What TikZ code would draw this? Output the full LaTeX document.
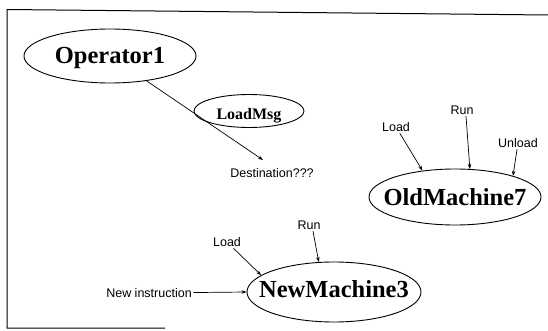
\documentclass[tikz,border=0pt]{standalone}
\usepackage{fontspec}
\setmainfont{Liberation Serif}
\newfontfamily\lblfont{Liberation Sans}
\usetikzlibrary{shapes.geometric,arrows.meta}
\begin{document}
\begin{tikzpicture}[x=1pt,y=-1pt,
  ell/.style={draw, ellipse, line width=0.9pt, inner sep=0pt},
  big/.style={font=\fontsize{24.5}{28}\selectfont\bfseries, text height=16pt, text depth=0pt, inner sep=0pt},
  mid/.style={font=\fontsize{16}{19}\selectfont\bfseries, text height=10.5pt, text depth=0pt, inner sep=0pt},
  lbl/.style={font=\lblfont\fontsize{12.5}{15}\selectfont, inner sep=1.5pt},
  conn/.style={line width=0.7pt, -{Stealth[length=5pt,width=3.5pt]}},
]
\useasboundingbox (0,0) rectangle (548,331);
% frame
\draw[line width=1pt] (548,15) -- (7,9.5) -- (7,328) -- (165,328);

% Operator1 and message
\node[ell, minimum width=172pt, minimum height=54pt, label={[big]center:Operator1}] (op) at (110,56) {};
\node[ell, minimum width=110pt, minimum height=33pt, label={[mid,yshift=-3pt]center:LoadMsg}] (lm) at (249,111) {};
\node[lbl] (dest) at (272,173) {Destination???};
\coordinate (dp) at (263,160);
\draw[conn] (op) -- (dp);

% OldMachine7
\node[ell, minimum width=172pt, minimum height=56pt, label={[big]center:OldMachine7}] (om) at (455,197) {};
\node[lbl] (oload) at (396,127) {Load};
\node[lbl] (orun) at (462,110) {Run};
\node[lbl] (ounl) at (518,143) {Unload};
\draw[conn] (oload) -- (om.141);
\draw[conn] ([xshift=4pt]orun.south) -- (om.62);
\draw[conn] (ounl) -- (om.20);

% NewMachine3
\node[ell, minimum width=174pt, minimum height=60pt, label={[big,yshift=3pt]center:NewMachine3}] (nm) at (334,292) {};
\node[lbl] (nload) at (227,242) {Load};
\node[lbl] (nrun) at (309,225) {Run};
\node[lbl] (ninst) at (149,293) {New instruction};
\draw[conn] (nload) -- (nm.167);
\draw[conn] ([xshift=4pt]nrun.south) -- (nm.117);
\draw[conn] (ninst) -- (nm.west);
\end{tikzpicture}
\end{document}
